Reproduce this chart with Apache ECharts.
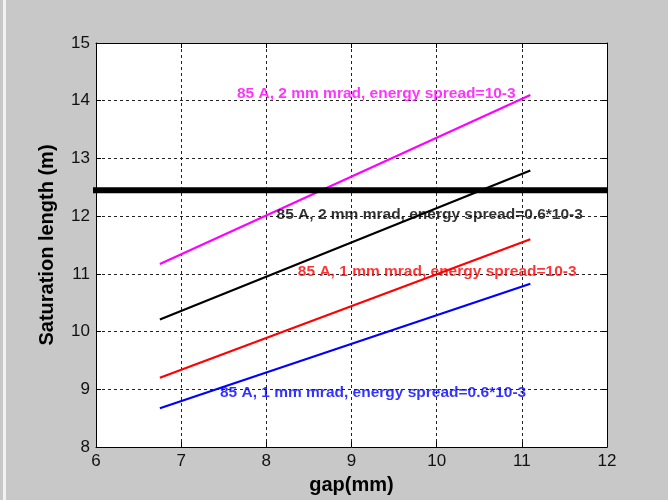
<!DOCTYPE html>
<html>
<head>
<meta charset="utf-8">
<script src="https://cdn.jsdelivr.net/npm/echarts@6/dist/echarts.min.js"></script>
<style>
  html, body { margin: 0; padding: 0; background: #c8c8c8; }
  #chart { width: 668px; height: 500px; }
</style>
</head>
<body>
<div id="chart"></div>
<script>
// Undulator gap vs. saturation length for four beam cases
const gapMm = [6.75, 11.1];
const sat2mmSpread10 = [11.17, 14.10];   // 85 A, 2 mm mrad, spread 10-3
const sat2mmSpread06 = [10.21, 12.79];   // 85 A, 2 mm mrad, spread 0.6*10-3
const sat1mmSpread10 = [9.20, 11.60];    // 85 A, 1 mm mrad, spread 10-3
const sat1mmSpread06 = [8.67, 10.83];    // 85 A, 1 mm mrad, spread 0.6*10-3

// Horizontal reference level
const limitGap = [5.94, 12];
const limitLength = 12.45;

// Annotation texts and where they sit (data coordinates)
const labelTexts = [
  '85 A, 2 mm mrad, energy spread=10-3',
  '85 A, 2 mm mrad, energy spread=0.6*10-3',
  '85 A, 1 mm mrad, energy spread=10-3',
  '85 A, 1 mm mrad, energy spread=0.6*10-3'
];
const labelGap = [7.655, 8.12, 8.37, 7.455];
const labelLength = [14.12, 12.03, 11.03, 8.94];
const curveColors = ['#ff00ff', '#000000', '#ff0000', '#0000ff'];

const xTicks = { min: 6, max: 12, interval: 1 };
const yTicks = { min: 8, max: 15, interval: 1 };

const curves = [sat2mmSpread10, sat2mmSpread06, sat1mmSpread10, sat1mmSpread06];

const chart = echarts.init(document.getElementById('chart'), null, { renderer: 'canvas' });

const font = 'Liberation Sans, Arial, sans-serif';

const lineSeries = curves.map((vals, i) => ({
  type: 'line',
  data: gapMm.map((g, k) => [g, vals[k]]),
  showSymbol: false,
  lineStyle: { color: curveColors[i], width: 2.2 },
  z: 3
}));

const labelSeries = {
  type: 'scatter',
  symbolSize: 0,
  data: labelTexts.map((t, i) => ({
    value: [labelGap[i], labelLength[i]],
    name: t,
    itemStyle: { color: curveColors[i] },
    label: { color: curveColors[i] }
  })),
  label: {
    show: true,
    position: 'right',
    distance: 0,
    formatter: p => p.name,
    fontFamily: font,
    fontWeight: 'bold',
    fontSize: 15.5
  },
  z: 5
};

const limitSeries = {
  type: 'line',
  data: limitGap.map(g => [g, limitLength]),
  showSymbol: false,
  clip: false,
  lineStyle: { color: '#000', width: 6 },
  z: 4
};

const gridLine = { show: true, lineStyle: { color: '#222', type: [3, 3], width: 1 } };
const frameTick = { show: true, inside: true, length: 5, lineStyle: { color: '#000' } };

chart.setOption({
  animation: false,
  backgroundColor: '#c8c8c8',
  graphic: [{
    type: 'rect', shape: { x: 3, y: 0, width: 3, height: 500 },
    style: { fill: '#f2f2f2' }, silent: true
  }],
  grid: { left: 96, right: 61, top: 43, bottom: 52, show: true, backgroundColor: '#ffffff', borderWidth: 0 },
  xAxis: [{
    type: 'value', min: xTicks.min, max: xTicks.max, interval: xTicks.interval,
    name: 'gap(mm)', nameLocation: 'middle', nameGap: 28,
    nameTextStyle: { fontFamily: font, fontWeight: 'bold', fontSize: 20, color: '#000' },
    axisLine: { show: true, lineStyle: { color: '#000', width: 1 } },
    axisTick: frameTick,
    axisLabel: { fontFamily: font, fontSize: 17, color: '#111', margin: 6 },
    splitLine: gridLine
  }, {
    type: 'value', position: 'top', min: xTicks.min, max: xTicks.max, interval: xTicks.interval,
    axisLine: { show: true, onZero: false, lineStyle: { color: '#000', width: 1 } },
    axisTick: frameTick,
    axisLabel: { show: false }, splitLine: { show: false }
  }],
  yAxis: [{
    type: 'value', min: yTicks.min, max: yTicks.max, interval: yTicks.interval,
    name: 'Saturation length (m)', nameLocation: 'middle', nameGap: 39,
    nameTextStyle: { fontFamily: font, fontWeight: 'bold', fontSize: 20, color: '#000' },
    axisLine: { show: true, lineStyle: { color: '#000', width: 1 } },
    axisTick: frameTick,
    axisLabel: { fontFamily: font, fontSize: 17, color: '#111', margin: 6 },
    splitLine: gridLine
  }, {
    type: 'value', position: 'right', min: yTicks.min, max: yTicks.max, interval: yTicks.interval,
    axisLine: { show: true, onZero: false, lineStyle: { color: '#000', width: 1 } },
    axisTick: frameTick,
    axisLabel: { show: false }, splitLine: { show: false }
  }],
  series: [...lineSeries, limitSeries, labelSeries]
});
</script>
</body>
</html>
